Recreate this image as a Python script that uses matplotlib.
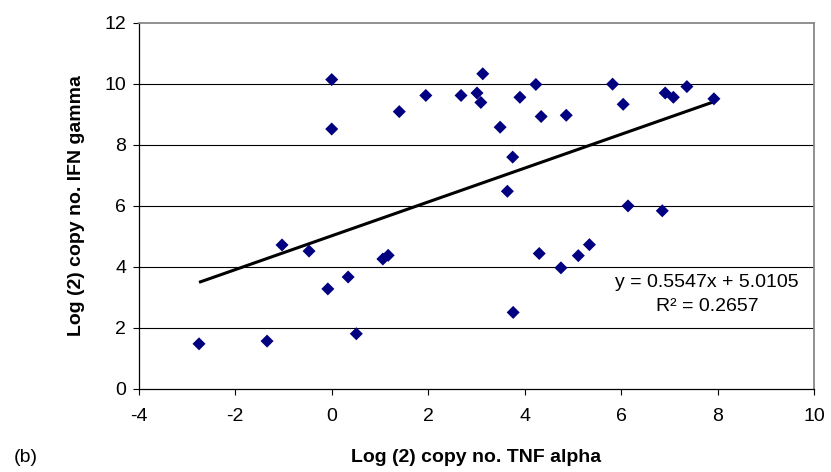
import matplotlib
matplotlib.use("Agg")
import matplotlib.pyplot as plt

plt.rcParams['font.family'] = ['Liberation Sans', 'DejaVu Sans']
plt.rcParams['axes.unicode_minus'] = False

# log2 copy numbers
tnf_alpha = [-2.75, -1.34, -1.03, -0.47, -0.08, 0.00, 0.00, 0.34, 0.51, 1.06,
             1.17, 1.40, 1.95, 2.68, 3.01, 3.09, 3.13, 3.49, 3.75, 3.64,
             3.90, 4.23, 4.34, 4.86, 5.82, 6.04, 6.14, 6.85, 6.91, 7.08,
             7.36, 7.92, 3.76, 4.30, 4.75, 5.11, 5.34]
ifn_gamma = [1.47, 1.56, 4.71, 4.51, 3.27, 10.13, 8.51, 3.66, 1.80, 4.25,
             4.37, 9.08, 9.61, 9.61, 9.69, 9.38, 10.32, 8.57, 7.59, 6.47,
             9.55, 9.97, 8.92, 8.96, 9.98, 9.32, 5.99, 5.83, 9.69, 9.55,
             9.90, 9.50, 2.50, 4.43, 3.96, 4.36, 4.72]

# linear trend reported on the chart
slope = 0.5547
intercept = 5.0105
r2 = 0.2657

x_ticks = [-4, -2, 0, 2, 4, 6, 8, 10]
y_ticks = [0, 2, 4, 6, 8, 10, 12]

fig = plt.figure(figsize=(8.31, 4.72), dpi=100)
ax = fig.add_axes([0.1669, 0.1765, 0.8130, 0.7758])

for y in y_ticks[1:-1]:
    ax.axhline(y, color='black', lw=0.8, zorder=1)

ax.scatter(tnf_alpha, ifn_gamma, marker='D', s=44, color='#000080',
           edgecolors='none', zorder=3)

xs = [min(tnf_alpha), max(tnf_alpha)]
ax.plot(xs, [slope * v + intercept for v in xs], color='black', lw=2.2,
        solid_capstyle='butt', zorder=2)

ax.text(7.78, 3.48, f"y = {slope}x + {intercept}", ha='center', va='center',
        fontsize=14)
ax.text(7.78, 2.68, f"R\u00b2 = {r2}", ha='center', va='center', fontsize=14)

ax.set_xlim(-4, 10)
ax.set_ylim(0, 12)
ax.set_xticks(x_ticks)
ax.set_yticks(y_ticks)
ax.tick_params(direction='out', length=4, width=0.8, labelsize=14, color='black')
ax.tick_params(axis='x', pad=10)
ax.tick_params(axis='y', pad=5)

ax.spines['top'].set_color('#888888')
ax.spines['right'].set_color('#888888')
ax.spines['top'].set_linewidth(1.3)
ax.spines['right'].set_linewidth(1.3)
ax.spines['left'].set_linewidth(0.9)
ax.spines['bottom'].set_linewidth(0.9)

ax.set_xlabel("Log (2) copy no. TNF alpha", fontsize=14, fontweight='bold',
              labelpad=17)
ax.set_ylabel("Log (2) copy no. IFN gamma", fontsize=14, fontweight='bold',
              labelpad=14)

fig.text(26 / 831, 1 - 457 / 472, "(b)", fontsize=14, ha='center', va='center')

fig.savefig("out.png", dpi=100)
